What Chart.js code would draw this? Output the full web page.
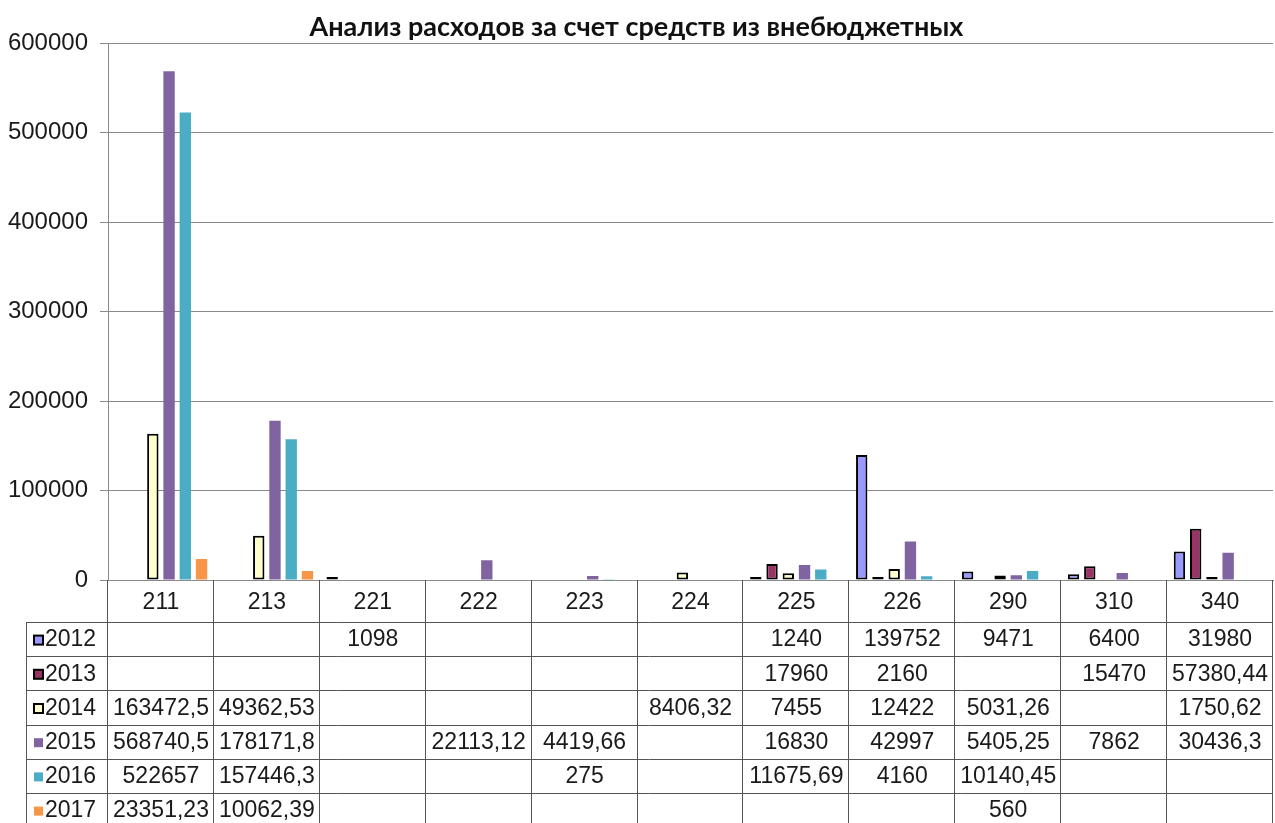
<!DOCTYPE html>
<html><head><meta charset="utf-8">
<script src="https://cdn.jsdelivr.net/npm/chart.js@4/dist/chart.umd.min.js"></script>
<style>html,body{margin:0;padding:0;background:#fff;}#wrap{width:1275px;height:823px;}</style>
</head><body><div id="wrap"><canvas id="c" width="1275" height="823"></canvas></div>
<script>
const chartTitle = 'Анализ расходов за счет средств из внебюджетных';
const categories = ['211','213','221','222','223','224','225','226','290','310','340'];
const seriesNames = ['2012','2013','2014','2015','2016','2017'];
const values2012 = [null, null, 1098, null, null, null, 1240, 139752, 9471, 6400, 31980];
const values2013 = [null, null, null, null, null, null, 17960, 2160, null, 15470, 57380.44];
const values2014 = [163472.5, 49362.53, null, null, null, 8406.32, 7455, 12422, 5031.26, null, 1750.62];
const values2015 = [568740.5, 178171.8, null, 22113.12, 4419.66, null, 16830, 42997, 5405.25, 7862, 30436.3];
const values2016 = [522657, 157446.3, null, null, 275, null, 11675.69, 4160, 10140.45, null, null];
const values2017 = [23351.23, 10062.39, null, null, null, null, null, null, 560, null, null];
const yTickValues = [0, 100000, 200000, 300000, 400000, 500000, 600000];

const seriesValues = [values2012, values2013, values2014, values2015, values2016, values2017];
const fills = ['#9999FF', '#993366', '#FFFFCC', '#8064A2', '#4BACC6', '#F79646'];
const bordered = [true, true, true, false, false, false];

const FONT = '"Liberation Sans", Arial, sans-serif';
const FS = 23;
const HEADER_H = 42;
const TABLE_BODY_H = 201;
const ROW_H = 34.2;
const LEGEND_LEFT = 26;

function fmt(v) { return String(v).replace('.', ','); }

const tablePlugin = {
  id: 'dataTable',
  afterDraw(chart) {
    const ctx = chart.ctx;
    const xs = chart.scales.x;
    const area = chart.chartArea;
    const n = categories.length;
    const colW = (xs.right - xs.left) / n;
    const top = area.bottom;
    const headBottom = top + HEADER_H;
    const bottom = chart.height;
    ctx.save();
    ctx.strokeStyle = '#555555';
    ctx.lineWidth = 1;
    const line = (x1, y1, x2, y2) => { ctx.beginPath(); ctx.moveTo(x1, y1); ctx.lineTo(x2, y2); ctx.stroke(); };
    for (let r = 0; r < seriesNames.length; r++) {
      const y = Math.round(headBottom + r * ROW_H) + 0.5;
      line(LEGEND_LEFT, y, xs.right, y);
    }
    for (let i = 0; i <= n; i++) {
      const xx = Math.round(xs.left + i * colW) - 0.5;
      line(xx, top, xx, bottom);
    }
    line(LEGEND_LEFT + 0.5, headBottom, LEGEND_LEFT + 0.5, bottom);

    ctx.font = FS + 'px ' + FONT;
    ctx.textBaseline = 'middle';
    for (let r = 0; r < seriesNames.length; r++) {
      const cy = headBottom + r * ROW_H + ROW_H / 2 + 1;
      const kx = LEGEND_LEFT + 8, ks = 9;
      ctx.fillStyle = fills[r];
      ctx.fillRect(kx, cy - ks / 2, ks, ks);
      if (bordered[r]) {
        ctx.strokeStyle = '#000';
        ctx.lineWidth = 2;
        ctx.strokeRect(kx, cy - ks / 2, ks, ks);
      }
      ctx.fillStyle = '#1a1a1a';
      ctx.textAlign = 'left';
      ctx.fillText(seriesNames[r], kx + ks + 2, cy);
      ctx.textAlign = 'center';
      const vals = seriesValues[r];
      for (let i = 0; i < n; i++) {
        if (vals[i] === null) continue;
        ctx.fillText(fmt(vals[i]), xs.getPixelForValue(i), cy);
      }
    }
    ctx.restore();
  }
};

const datasets = seriesNames.map((name, i) => ({
  label: name,
  data: seriesValues[i],
  backgroundColor: fills[i],
  borderColor: '#000000',
  borderWidth: bordered[i] ? 2 : 0,
  borderSkipped: false,
  minBarLength: bordered[i] ? 3 : 0,
  categoryPercentage: 0.92,
  barPercentage: 0.7
}));

new Chart(document.getElementById('c'), {
  type: 'bar',
  data: { labels: categories, datasets },
  plugins: [tablePlugin],
  options: {
    responsive: false,
    animation: false,
    devicePixelRatio: 1,
    layout: { padding: { left: 0, right: 2, top: 0, bottom: TABLE_BODY_H } },
    plugins: {
      legend: { display: false },
      tooltip: { enabled: false },
      title: {
        display: true,
        text: chartTitle,
        color: '#111',
        font: { family: 'Lato, "Open Sans", sans-serif', size: 27, weight: 'bold' },
        padding: { top: 11, bottom: 0 }
      }
    },
    scales: {
      x: {
        grid: { display: false, drawTicks: false },
        border: { display: true, color: '#8a8a8a' },
        ticks: { color: '#1a1a1a', font: { family: FONT, size: FS }, padding: 9, maxRotation: 0, autoSkip: false },
        afterFit: s => { s.height = HEADER_H; }
      },
      y: {
        min: 0,
        max: 600000,
        afterBuildTicks: s => { s.ticks = yTickValues.map(v => ({ value: v })); },
        grid: { color: '#8a8a8a', tickLength: 8 },
        border: { color: '#8a8a8a' },
        ticks: { color: '#1a1a1a', font: { family: FONT, size: 24 }, padding: 12, callback: v => String(v) },
        afterFit: s => { s.width = 108; }
      }
    }
  }
});
</script>
</body></html>
